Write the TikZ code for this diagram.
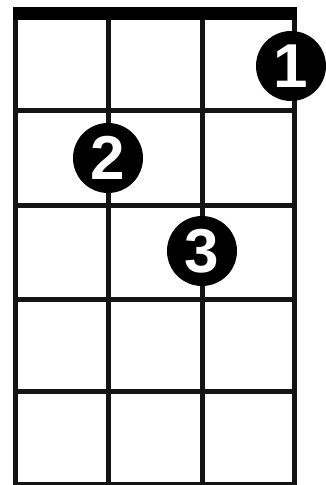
\documentclass[tikz,border=0pt]{standalone}
\usepackage{fontspec}
\setmainfont{Liberation Sans}
\begin{document}
\begin{tikzpicture}[x=1pt,y=-1pt,
  gridline/.style={line width=5pt, draw=black!92},
  fingerdot/.style={circle, fill=black, minimum size=70pt, inner sep=0pt, text=white,
    font=\bfseries\fontsize{62}{62}\selectfont}]
\useasboundingbox[fill=white] (0,0) rectangle (325,485);
\foreach \x in {15,108,202,294} \draw[gridline] (\x,14) -- (\x,486);
\foreach \y in {110,205,299,391,484} \draw[gridline] (12.5,\y) -- (296.5,\y);
\fill[black] (12.5,7) rectangle (296.5,20);
\node[fingerdot] (d1) at (291,66) {1};
\node[fingerdot] (d2) at (108,158) {2};
\node[fingerdot] (d3) at (202,251) {3};
\end{tikzpicture}
\end{document}
